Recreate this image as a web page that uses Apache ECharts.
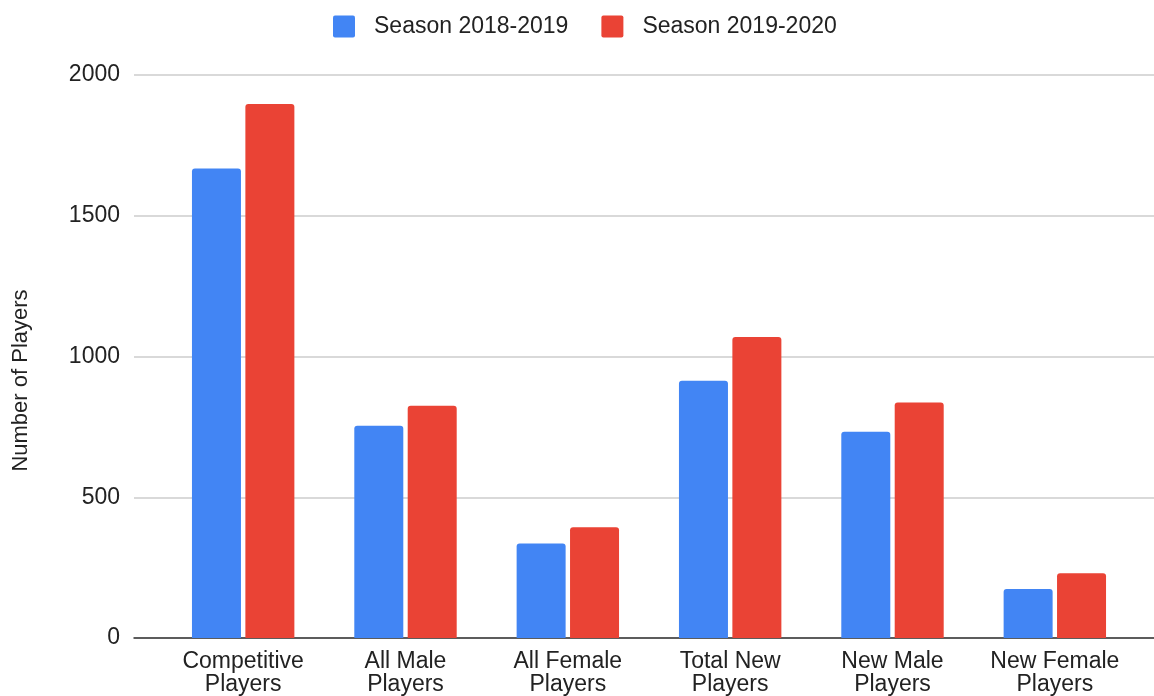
<!DOCTYPE html>
<html>
<head>
<meta charset="utf-8">
<script src="https://cdn.jsdelivr.net/npm/echarts@6/dist/echarts.min.js"></script>
<style>
  html, body { margin: 0; padding: 0; background: #fff; }
  #chart { width: 1154px; height: 696px; }
</style>
</head>
<body>
<div id="chart"></div>
<script>
const categories = [
  "Competitive\nPlayers",
  "All Male\nPlayers",
  "All Female\nPlayers",
  "Total New\nPlayers",
  "New Male\nPlayers",
  "New Female\nPlayers"
]
const season1819 = [1668, 754, 336, 914, 733, 174]
const season1920 = [1897, 825, 393, 1069, 837, 230]
const seriesNames = ["Season 2018-2019", "Season 2019-2020"]

const font = "Arial, 'Liberation Sans', sans-serif"
const chart = echarts.init(document.getElementById("chart"))

// small-radius square for the legend markers
const legendIcon = "path://M2,0 H20 A2,2 0 0 1 22,2 V20 A2,2 0 0 1 20,22 H2 A2,2 0 0 1 0,20 V2 A2,2 0 0 1 2,0 Z"

chart.setOption({
  backgroundColor: "#fff",
  animation: false,
  textStyle: { fontFamily: font },
  legend: {
    left: 328,
    top: 10,
    itemWidth: 22,
    itemHeight: 22,
    itemGap: 33,
    icon: legendIcon,
    textStyle: {
      fontSize: 23,
      color: "#222",
      fontFamily: font,
      padding: [0, 0, 0, 14]
    },
    data: seriesNames
  },
  grid: [
    // background grid: gridlines + baseline
    { left: 134, right: 0, top: 75, bottom: 58 },
    // bars
    { left: 162, width: 974, top: 75, bottom: 58 }
  ],
  xAxis: [
    {
      gridIndex: 0,
      type: "value",
      min: 0,
      max: 1,
      axisLabel: { show: false },
      axisTick: { show: false },
      splitLine: { show: false },
      axisLine: { show: true, lineStyle: { color: "#333", width: 1.5 } }
    },
    {
      gridIndex: 1,
      type: "category",
      data: categories,
      axisLine: { show: false },
      axisTick: { show: false },
      axisLabel: {
        fontSize: 23,
        lineHeight: 23,
        color: "#222",
        margin: 12,
        fontFamily: font,
        interval: 0
      }
    }
  ],
  yAxis: [
    {
      gridIndex: 0,
      type: "value",
      min: 0,
      max: 2000,
      interval: 500,
      name: "Number of Players",
      nameLocation: "middle",
      nameGap: 102,
      nameTextStyle: {
        fontSize: 22,
        color: "#222",
        fontFamily: font,
        padding: [0, 48, 0, 0]
      },
      axisLine: { show: false },
      axisTick: { show: false },
      axisLabel: {
        fontSize: 23,
        color: "#222",
        margin: 14,
        fontFamily: font,
        formatter: (v) => String(v)
      },
      splitLine: { lineStyle: { color: "#ccc", width: 1.5 } }
    },
    {
      gridIndex: 1,
      type: "value",
      min: 0,
      max: 2000,
      show: false
    }
  ],
  series: [
    {
      name: seriesNames[0],
      type: "bar",
      xAxisIndex: 1,
      yAxisIndex: 1,
      data: season1819,
      barWidth: 49,
      barGap: "9%",
      itemStyle: { color: "#4285F4", borderRadius: [3, 3, 0, 0] }
    },
    {
      name: seriesNames[1],
      type: "bar",
      xAxisIndex: 1,
      yAxisIndex: 1,
      data: season1920,
      barWidth: 49,
      barGap: "9%",
      itemStyle: { color: "#EA4335", borderRadius: [3, 3, 0, 0] }
    }
  ]
})
</script>
</body>
</html>
